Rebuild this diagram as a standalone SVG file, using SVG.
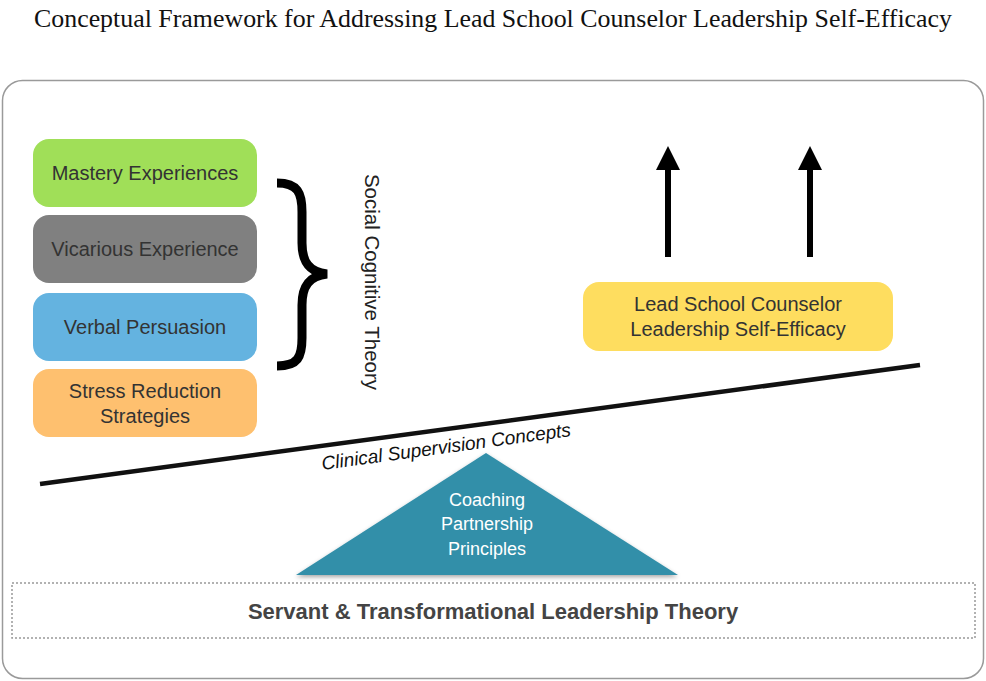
<svg xmlns="http://www.w3.org/2000/svg" width="986" height="681" viewBox="0 0 986 681">
<style>
.lbl{font-family:"Liberation Sans",Arial,sans-serif;font-size:20px;fill:#333;text-anchor:middle}
.box{rx:16;ry:16}
</style>
<defs>
<filter id="sh" x="-10%" y="-10%" width="120%" height="130%"><feDropShadow dx="0" dy="2" stdDeviation="2" flood-color="#000" flood-opacity="0.35"/></filter>
</defs>
<rect width="986" height="681" fill="#fff"/>
<text x="493" y="27" font-family="'Liberation Serif','Times New Roman',serif" font-size="26" fill="#111" text-anchor="middle" textLength="918" lengthAdjust="spacingAndGlyphs">Conceptual Framework for Addressing Lead School Counselor Leadership Self-Efficacy</text>
<rect id="frame" x="2.5" y="80.5" width="981" height="598" rx="20" fill="none" stroke="#9a9a9a" stroke-width="1.5"/>

<g id="mastery"><rect class="box" x="33" y="139" width="224" height="68" fill="#a0df58"/><text class="lbl" x="145" y="180">Mastery Experiences</text></g>
<g id="vicarious"><rect class="box" x="33" y="215" width="224" height="68" fill="#808080"/><text class="lbl" x="145" y="256">Vicarious Experience</text></g>
<g id="verbal"><rect class="box" x="33" y="293" width="224" height="68" fill="#64b3e0"/><text class="lbl" x="145" y="334">Verbal Persuasion</text></g>
<g id="stress"><rect class="box" x="33" y="369" width="224" height="68" fill="#fec06f"/><text class="lbl" x="145" y="398">Stress Reduction</text><text class="lbl" x="145" y="423">Strategies</text></g>

<g id="brace"><path d="M277,183 C298,183 302,193 302,212 L302,243 C302,262 309,272 327,274 C309,276 302,286 302,305 L302,338 C302,357 298,366 277,366" fill="none" stroke="#000" stroke-width="9"/></g>
<g id="sct"><text class="lbl" transform="translate(365,282) rotate(90)" font-size="20.5" style="fill:#222;font-size:20.5px">Social Cognitive Theory</text></g>

<g id="lsc"><rect class="box" x="583" y="282" width="310" height="69" fill="#fedd5f"/><text class="lbl" x="738" y="311">Lead School Counselor</text><text class="lbl" x="738" y="336">Leadership Self-Efficacy</text></g>

<g id="connectors">
<line x1="668" y1="257" x2="668" y2="166" stroke="#000" stroke-width="6"/>
<polygon points="668,146 656,170 680,170" fill="#000"/>
<line x1="810" y1="257" x2="810" y2="166" stroke="#000" stroke-width="6"/>
<polygon points="810,146 798,170 822,170" fill="#000"/>
</g>

<g id="triangle"><polygon points="486,453 296,575 678,575" fill="#338fa9" filter="url(#sh)"/>
<text class="lbl" x="487" y="506" style="fill:#fff;font-size:18px">Coaching</text>
<text class="lbl" x="487" y="530" style="fill:#fff;font-size:18px">Partnership</text>
<text class="lbl" x="487" y="555" style="fill:#fff;font-size:18px">Principles</text></g>

<g id="beam"><line x1="40" y1="484" x2="920" y2="365" stroke="#111" stroke-width="4.5"/>
<text class="lbl" transform="translate(447,453) rotate(-7.8)" style="fill:#111;font-style:italic;font-size:19px">Clinical Supervision Concepts</text></g>

<g id="servant"><rect x="12" y="583" width="963" height="55" fill="none" stroke="#999" stroke-width="1.5" stroke-dasharray="2,2"/>
<text class="lbl" x="493" y="619" style="fill:#444;font-weight:bold;font-size:22px">Servant &amp; Transformational Leadership Theory</text></g>
</svg>
